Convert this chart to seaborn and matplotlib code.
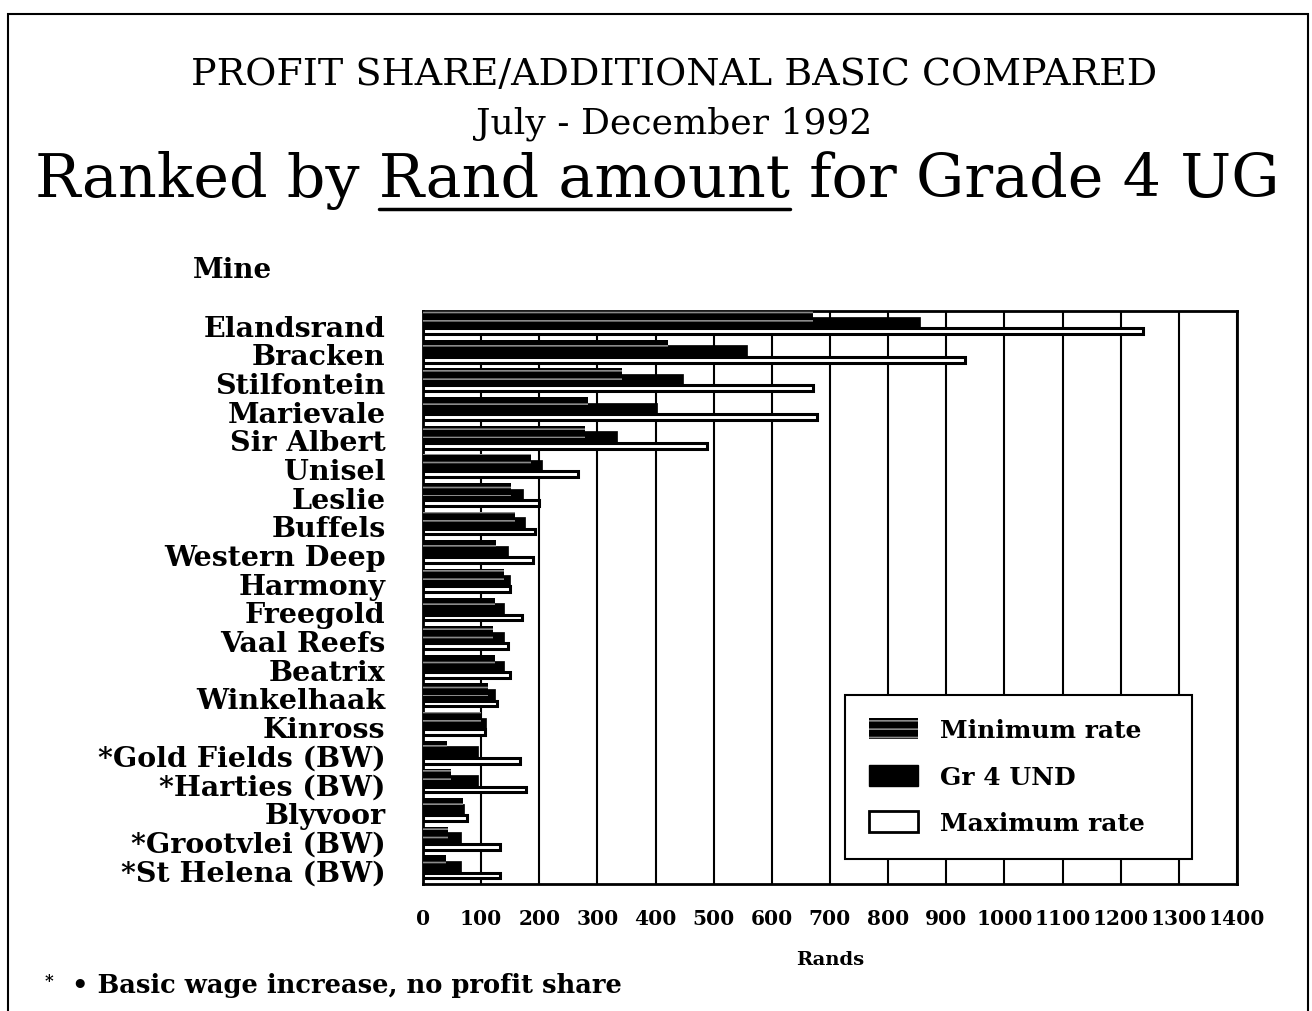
#!/usr/bin/env python3
"""Profit share / additional basic compared, Jul-Dec 1992 (Grade 4 UG)."""

import matplotlib

matplotlib.use("Agg")
import matplotlib.pyplot as plt
import pandas as pd
import seaborn as sns
from matplotlib.lines import Line2D
from matplotlib.patches import Patch, Rectangle

mines = [
    "Elandsrand", "Bracken", "Stilfontein", "Marievale", "Sir Albert",
    "Unisel", "Leslie", "Buffels", "Western Deep", "Harmony",
    "Freegold", "Vaal Reefs", "Beatrix", "Winkelhaak", "Kinross",
    "*Gold Fields (BW)", "*Harties (BW)", "Blyvoor", "*Grootvlei (BW)",
    "*St Helena (BW)",
]
min_rate = [670, 421, 343, 283, 278, 185, 152, 158, 126, 140,
            123, 120, 123, 111, 100, 42, 48, 68, 43, 40]
gr4_und = [855, 558, 447, 402, 333, 205, 172, 175, 146, 149,
           140, 140, 140, 123, 109, 94, 94, 71, 66, 66]
max_rate = [1238, 932, 670, 677, 488, 266, 200, 192, 189, 150,
            170, 146, 149, 128, 106, 166, 178, 76, 133, 133]
series_names = ["Minimum rate", "Gr 4 UND", "Maximum rate"]
x_ticks = list(range(0, 1401, 100))

W, H = 1312, 1012


def main():
    sns.set_style("white")
    plt.rcParams["font.family"] = ["DejaVu Serif", "DejaVu Sans"]
    plt.rcParams["hatch.linewidth"] = 1.2
    for key in ["text.color", "axes.labelcolor", "xtick.color", "ytick.color"]:
        plt.rcParams[key] = "black"

    df = pd.DataFrame({
        "mine": mines * 3,
        "series": sum([[s] * len(mines) for s in series_names], []),
        "value": min_rate + gr4_und + max_rate,
    })

    fig = plt.figure(figsize=(W / 100, H / 100), dpi=100)
    ax = fig.add_axes([423 / W, 1 - 885 / H, 814 / W, 573 / H])

    sns.barplot(
        data=df, x="value", y="mine", hue="series", hue_order=series_names,
        orient="h", dodge=True, width=0.9, errorbar=None, saturation=1,
        palette=["black", "black", "white"], legend=False, ax=ax,
    )

    # overlap the three bars of each mine (old business-graphics style)
    layout = {0: (-0.50, 0.44, 3), 1: (-0.30, 0.48, 2), 2: (0.10, 0.20, 4)}
    for k, cont in enumerate(ax.containers):
        top, height, z = layout[k]
        for i, p in enumerate(cont.patches):
            p.set_y(i + top)
            p.set_height(height)
            p.set_zorder(z)
            if k == 0:
                p.set_facecolor("black")
                p.set_edgecolor("#8a8a8a")
                p.set_hatch("--")
                p.set_linewidth(0)
            elif k == 1:
                p.set_facecolor("black")
                p.set_edgecolor("black")
                p.set_linewidth(0.5)
            else:
                p.set_facecolor("white")
                p.set_edgecolor("black")
                p.set_linewidth(2.2)

    ax.set_xlim(0, 1400)
    ax.set_ylim(len(mines) - 0.5, -0.5)
    ax.set_xticks(x_ticks)
    ax.set_xticklabels([str(t) for t in x_ticks], fontsize=14.5, fontweight="bold")
    ax.set_yticks(range(len(mines)))
    ax.set_yticklabels(mines, fontsize=20.5, fontweight="bold")
    ax.tick_params(axis="x", length=0, pad=17)
    ax.tick_params(axis="y", length=0, pad=27)
    ax.xaxis.grid(True, color="black", lw=1.5)
    ax.yaxis.grid(False)
    ax.set_axisbelow(True)
    for s in ax.spines.values():
        s.set_visible(True)
        s.set_color("black")
        s.set_linewidth(2)
    ax.set_ylabel("")
    ax.set_xlabel("Rands", fontsize=14, fontweight="bold", labelpad=16)

    handles = [
        Patch(facecolor="black", edgecolor="#8a8a8a", hatch="--", lw=0),
        Patch(facecolor="black", edgecolor="black"),
        Patch(facecolor="white", edgecolor="black", lw=2),
    ]
    leg = ax.legend(
        handles, series_names, loc="lower left",
        bbox_to_anchor=(0.5184, 0.0436, 0.4263, 0.3), mode="expand",
        frameon=True, fancybox=False, edgecolor="black", framealpha=1,
        prop={"size": 18, "weight": "bold"}, handlelength=1.96,
        handleheight=0.9, labelspacing=0.9, handletextpad=0.88,
        borderpad=0.95, borderaxespad=0,
    )
    leg.get_frame().set_linewidth(1.5)
    leg.set_zorder(10)

    # titles
    fig.text(0.514, 1 - 75 / H, "PROFIT SHARE/ADDITIONAL BASIC COMPARED",
             ha="center", va="center", fontsize=27.4)
    fig.text(0.514, 1 - 124 / H, "July - December 1992",
             ha="center", va="center", fontsize=26)
    full = "Ranked by Rand amount for Grade 4 UG"
    t3 = fig.text(0.501, 1 - 181 / H, full, ha="center", va="center", fontsize=43.5)

    fig.canvas.draw()
    r = fig.canvas.get_renderer()
    bb = t3.get_window_extent(r)

    def width_of(s):
        tmp = fig.text(0, 0, s, fontsize=43.5)
        w = tmp.get_window_extent(r).width
        tmp.remove()
        return w

    end = bb.x0 + width_of("Ranked by Rand amount")
    start = end - width_of("Rand amount")
    y_ul = bb.y0 + 1
    fig.add_artist(Line2D([start / W, end / W], [y_ul / H, y_ul / H],
                          color="black", lw=2.5, transform=fig.transFigure))

    fig.text(193 / W, 1 - 271 / H, "Mine", ha="left", va="center",
             fontsize=20, fontweight="bold")
    fig.text(45 / W, 1 - 982 / H, "*", ha="left", va="center",
             fontsize=12, fontweight="bold")
    fig.text(72 / W, 1 - 986 / H, "\u2022 Basic wage increase, no profit share",
             ha="left", va="center", fontsize=18.5, fontweight="bold")

    fig.patches.append(Rectangle((8 / W, -0.05), 1300 / W, 1.05 - 15 / H,
                                 fill=False, lw=1.5, ec="black",
                                 transform=fig.transFigure, figure=fig))

    fig.savefig("out.png", dpi=100)
    plt.close(fig)


if __name__ == "__main__":
    main()
